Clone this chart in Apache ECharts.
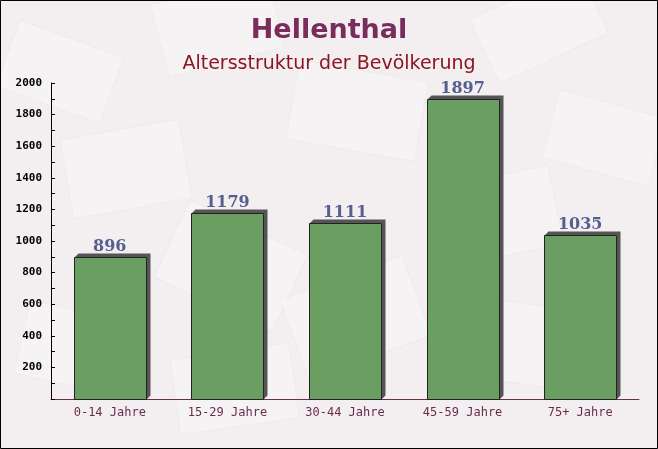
<!DOCTYPE html>
<html>
<head>
<meta charset="utf-8">
<script src="https://cdn.jsdelivr.net/npm/echarts@6/dist/echarts.min.js"></script>
<style>
  html, body { margin: 0; padding: 0; background: #f3eff1; }
  #main { width: 658px; height: 449px; }
</style>
</head>
<body>
<div id="main"></div>
<script>
  var categories = ['0-14 Jahre', '15-29 Jahre', '30-44 Jahre', '45-59 Jahre', '75+ Jahre'];
  var values = [896, 1179, 1111, 1897, 1035];
  var yTicks = [200, 400, 600, 800, 1000, 1200, 1400, 1600, 1800, 2000];

  // faint envelope shapes behind the chart
  var envelopes = [
    [20, 20, 110, 70, -20], [150, 5, 120, 75, 15], [300, 60, 130, 80, -10],
    [470, 20, 120, 70, 25], [560, 90, 110, 70, -15], [60, 140, 120, 80, 10],
    [190, 200, 130, 85, -25], [430, 190, 120, 80, 12], [30, 300, 110, 75, -12],
    [280, 300, 130, 85, 20], [500, 300, 120, 80, -8], [170, 360, 120, 75, 8]
  ];
  var bgShapes = envelopes.map(function (e) {
    return {
      type: 'rect', x: e[0], y: e[1], rotation: e[4] * Math.PI / 180,
      shape: { width: e[2], height: e[3] }, z: -10,
      style: { fill: 'rgba(255,255,255,0.25)', stroke: 'rgba(230,220,226,0.3)', lineWidth: 1 },
      silent: true
    };
  });
  bgShapes.push({
    type: 'rect', shape: { x: 0.5, y: 0.5, width: 657, height: 448 }, z: 100,
    style: { fill: 'none', stroke: '#000', lineWidth: 1 }, silent: true
  });

  function renderBar(params, api) {
    var idx = api.value(0);
    var val = api.value(1);
    var top = api.coord([idx, val]);
    var base = api.coord([idx, 0]);
    var w = Math.round(api.size([1, 0])[0] * 0.61);
    var x = Math.round(top[0] - w / 2) + 0.5;
    var y = Math.round(top[1]) + 0.5;
    var h = Math.round(base[1]) - Math.round(top[1]);
    var d = 4;
    return {
      type: 'group',
      children: [
        {
          type: 'polygon',
          shape: { points: [[x, y], [x + d, y - d], [x + w + d, y - d], [x + w + d, y + h - d], [x + w, y + h], [x + w, y]] },
          style: { fill: '#555555' }
        },
        {
          type: 'rect',
          shape: { x: x, y: y, width: w, height: h },
          style: { fill: '#6a9e63', stroke: '#222', lineWidth: 1 }
        },
        {
          type: 'text',
          x: top[0], y: y - 3,
          style: {
            text: String(val), align: 'center', verticalAlign: 'bottom',
            fill: '#56608f', font: 'bold 16px "DejaVu Serif"'
          }
        }
      ]
    };
  }

  var myEchart = echarts.init(document.getElementById('main'));
  myEchart.setOption({
    backgroundColor: '#f3eff1',
    animation: false,
    graphic: bgShapes,
    title: [
      {
        text: 'Hellenthal', left: 'center', top: 12,
        textStyle: { color: '#7a2c5c', fontSize: 27, fontWeight: 'bold', fontFamily: 'DejaVu Sans' }
      },
      {
        text: 'Altersstruktur der Bevölkerung', left: 'center', top: 50,
        textStyle: { color: '#8b1620', fontSize: 19, fontWeight: 'normal', fontFamily: 'DejaVu Sans' }
      }
    ],
    grid: { left: 51, right: 19, top: 83, bottom: 50 },
    xAxis: {
      type: 'category',
      data: categories,
      boundaryGap: true,
      axisLine: { lineStyle: { color: '#6b2d4f', width: 1 } },
      axisTick: { inside: true, length: 4, lineStyle: { color: '#6b2d4f' } },
      axisLabel: {
        color: '#6b2d4f', fontSize: 12, fontFamily: 'DejaVu Sans Mono', margin: 8
      }
    },
    yAxis: {
      type: 'value',
      min: 0, max: 2000, interval: 100,
      axisLine: { show: true, lineStyle: { color: '#000', width: 1 } },
      axisTick: { show: true, inside: true, length: 4, lineStyle: { color: '#000' } },
      splitLine: { show: false },
      axisLabel: {
        color: '#000', fontSize: 11, fontWeight: 'bold', fontFamily: 'DejaVu Sans Mono', margin: 9,
        formatter: function (v) { return yTicks.indexOf(v) >= 0 ? String(v) : ''; }
      }
    },
    series: [{
      type: 'custom',
      renderItem: renderBar,
      data: values.map(function (v, i) { return [i, v]; })
    }]
  });
</script>
</body>
</html>
